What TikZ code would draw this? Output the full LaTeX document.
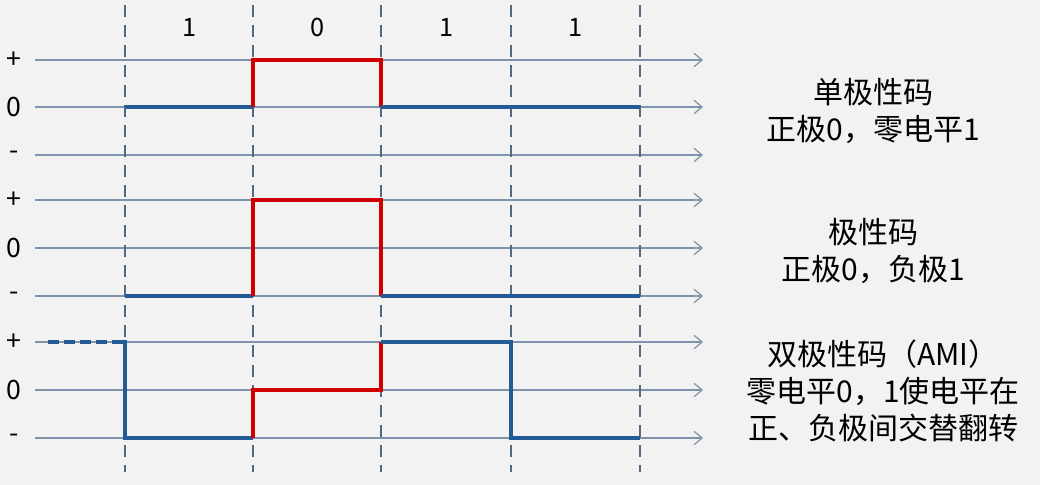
\documentclass[tikz,border=0pt]{standalone}
\usepackage{fontspec}
\setmainfont{Noto Sans CJK SC}
\usetikzlibrary{arrows.meta}
\definecolor{bg}{HTML}{F2F2F2}
\definecolor{axis}{HTML}{7F93AC}
\definecolor{grid}{HTML}{536A84}
\definecolor{sigblue}{HTML}{235B96}
\definecolor{sigred}{HTML}{D00000}
\tikzset{
  axisline/.style={axis, line width=0.9pt, -{Straight Barb[length=6pt,width=10pt]}},
  gridline/.style={grid, line width=0.9pt, dash pattern=on 9pt off 6pt},
  blue sig/.style={sigblue, line width=2.6pt, line join=miter},
  red sig/.style={sigred, line width=2.6pt, line join=miter},
  lvl/.style={font=\fontsize{20}{22}\selectfont, text=black},
  bitlbl/.style={font=\fontsize{19}{21}\selectfont, text=black},
  desc/.style={font=\fontsize{22.5}{27.5}\selectfont, align=center, text=black}
}
\begin{document}
\begin{tikzpicture}[x=0.75pt,y=-0.75pt]
\fill[bg] (0,0) rectangle (1040,485);
\useasboundingbox (0,0) rectangle (1040,485);
% axis lines
\foreach \yy/\nm in {60/a1,107/a2,155/a3,200/b1,248/b2,296/b3,342/c1,390/c2,438/c3}{
  \coordinate (\nm s) at (35,\yy);
  \coordinate (\nm e) at (703,\yy);
  \draw[axisline] (\nm s) -- (\nm e);
}
% vertical dashed grid
\foreach \xx/\nm in {125/v1,253/v2,381/v3,511/v4,640/v5}{
  \coordinate (\nm t) at (\xx,5);
  \coordinate (\nm b) at (\xx,472);
  \draw[gridline] (\nm t) -- (\nm b);
}
% level labels
\foreach \yy/\t/\nm in {60/+/l1,107/0/l2,155/-/l3,200/+/l4,248/0/l5,296/-/l6,342/+/l7,390/0/l8,438/-/l9}{
  \node[lvl] (\nm) at (14,\yy) {\t};
}
% bit labels
\node[bitlbl] (bit1) at (190,27) {1};
\node[bitlbl] (bit2) at (318,27) {0};
\node[bitlbl] (bit3) at (447,27) {1};
\node[bitlbl] (bit4) at (576,27) {1};
% unipolar
\draw[blue sig] (125,107) -- (253,107);
\draw[red sig] (253,107) -- (253,60) -- (381,60) -- (381,107);
\draw[blue sig] (381,107) -- (640,107);
% polar
\draw[blue sig] (125,296) -- (253,296);
\draw[red sig] (253,296) -- (253,200) -- (381,200) -- (381,296);
\draw[blue sig] (381,296) -- (640,296);
% AMI
\draw[blue sig, dash pattern=on 8pt off 4pt] (48,342) -- (118,342);
\draw[blue sig] (117,342) -- (125,342) -- (125,438) -- (253,438);
\draw[red sig] (253,438) -- (253,390) -- (381,390) -- (381,342);
\draw[blue sig] (381,342) -- (511,342) -- (511,438) -- (640,438);
% descriptions
\node[desc] (d1) at (873,111) {单极性码\\正极0，零电平1};
\node[desc] (d2) at (873,251) {极性码\\正极0，负极1};
\node[desc] (d3) at (883,391) {双极性码（AMI）\\零电平0，1使电平在\\正、负极间交替翻转};
\end{tikzpicture}
\end{document}
